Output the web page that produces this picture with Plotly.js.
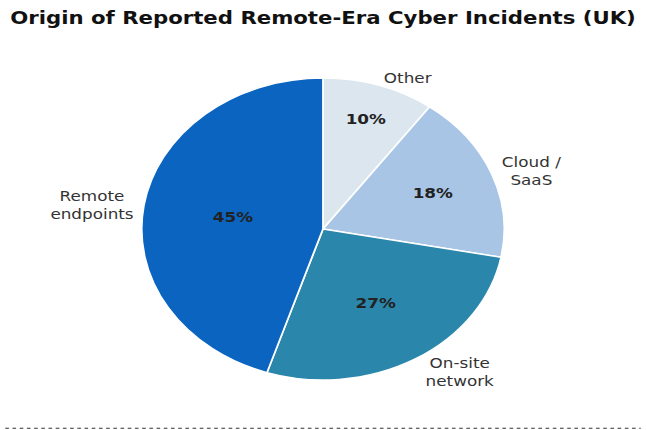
<!DOCTYPE html>
<html>
<head>
<meta charset="utf-8">
<script src="https://cdn.plot.ly/plotly-3.0.1.min.js"></script>
<style>
  html, body { margin: 0; padding: 0; background: #ffffff; overflow: hidden; }
  #wrap { width: 646px; height: 430px; position: relative; overflow: hidden; }
  #chart { width: 538px; height: 430px; transform: scaleX(1.2007); transform-origin: 0 0; }
</style>
</head>
<body>
<div id="wrap"><div id="chart"></div></div>
<script>
const categories = ["Other", "Cloud /<br>SaaS", "On-site<br>network", "Remote<br>endpoints"];
const shares = [10, 18, 27, 45];
const sliceColors = ["#dce6ee", "#a8c5e6", "#2a87ab", "#0a64c0"];
const titleText = "Origin of Reported Remote-Era Cyber Incidents (UK)";

const common = {
  type: "pie",
  labels: categories,
  values: shares,
  sort: false,
  direction: "clockwise",
  rotation: 0,
  hoverinfo: "skip",
  domain: { x: [0, 1], y: [0, 1] }
};

const pctTrace = Object.assign({}, common, {
  marker: { colors: sliceColors, line: { color: "#ffffff", width: 1.5 } },
  textinfo: "percent",
  texttemplate: "%{value}%",
  textposition: "inside",
  insidetextorientation: "horizontal",
  insidetextfont: { family: "DejaVu Sans", size: 14, color: "#222222", weight: "bold" },
  showlegend: false
});

const labelTrace = Object.assign({}, common, {
  marker: { colors: ["rgba(0,0,0,0)", "rgba(0,0,0,0)", "rgba(0,0,0,0)", "rgba(0,0,0,0)"], line: { width: 0 } },
  textinfo: "label",
  textposition: "outside",
  outsidetextfont: { family: "DejaVu Sans", size: 14, color: "#333333" },
  automargin: false,
  showlegend: false
});

const layout = {
  width: 538,
  height: 430,
  margin: { l: 80, r: 80, t: 78, b: 50 },
  paper_bgcolor: "#ffffff",
  plot_bgcolor: "#ffffff",
  showlegend: false,
  title: {
    text: "<b>" + titleText + "</b>",
    font: { family: "DejaVu Sans", size: 17.7, color: "#111111" },
    x: 0.5, xanchor: "center",
    y: 0.958, yanchor: "middle", yref: "container"
  },
  shapes: [{
    type: "line", xref: "paper", yref: "paper",
    x0: -0.2, x1: 1.2, y0: -0.16, y1: -0.16,
    line: { color: "#333333", width: 1, dash: "dot" }
  }]
};

Plotly.newPlot("chart", [labelTrace, pctTrace], layout, { displayModeBar: false, staticPlot: true });
</script>
</body>
</html>
